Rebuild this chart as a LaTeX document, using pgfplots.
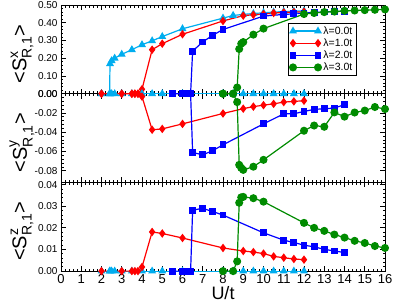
\documentclass[border=0pt]{standalone}
\usepackage{fontspec}
\setmainfont{Liberation Sans}
\usepackage{amsmath}
\usepackage{pgfplots}
\usepackage{pgfplotstable}
\pgfplotsset{compat=1.18}
\definecolor{gg}{rgb}{0,0.545,0}

\pgfplotstableread{
U sx sy sz
2.0 0 0 0
2.4 0 0 0
2.42 0.169 0 0
2.5 0.186 0 0
2.65 0.200 0 0
3.0 0.222 0 0
3.5 0.248 0 0
4.0 0.276 0 0
4.5 0.298 0 0
5.0 0.322 0 0
6.0 0.366 0 0
8.0 0.426 0 0
8.5 0.441 0 0
9.0 0.447 0 0
9.5 0.452 0 0
10.0 0.456 0 0
10.5 0.460 0 0
11.0 0.463 0 0
11.5 0.465 0 0
12.0 0.467 0 0
}\tabA

\pgfplotstableread{
U sx sy sz
2.0 0 0 0
3.0 0 0 0
3.5 0 0 0
3.65 0 0 0
3.8 0 0 0
4.0 0.025 -0.003 0.0019
4.5 0.248 -0.0374 0.0181
5.0 0.282 -0.0365 0.0174
6.0 0.335 -0.0313 0.0153
8.0 0.410 -0.0205 0.0107
9.0 0.440 -0.0155 0.0093
9.5 0.445 -0.0134 0.0088
10.0 0.449 -0.0119 0.0081
10.5 0.455 -0.0105 0.0068
11.0 0.458 -0.0087 0.0062
11.5 0.460 -0.0080 0.0056
12.0 0.462 -0.0073 0.0053
}\tabB

\pgfplotstableread{
U sx sy sz
5.5 0 0 0
6.0 0 0 0
6.2 0 0 0
6.4 0 0 0
6.5 0.240 -0.0610 0.0282
7.0 0.292 -0.0634 0.0290
7.5 0.330 -0.0590 0.0275
8.0 0.362 -0.0530 0.0259
10.0 0.4375 -0.0313 0.0177
11.0 0.447 -0.0209 0.0143
11.5 0.450 -0.0208 0.0132
12.0 0.455 -0.0184 0.0120
12.5 0.458 -0.0163 0.0112
13.0 0.461 -0.0156 0.0101
13.5 0.463 -0.0149 0.0093
14.0 0.465 -0.0114 0.0086
}\tabC

\pgfplotstableread{
U sx sy sz
8.0 0 0 0
8.5 0 0 0
8.7 0.035 -0.0087 0.0045
8.8 0.252 -0.0738 0.0316
8.9 0.282 -0.0770 0.0341
9.0 0.291 -0.0790 0.0343
9.5 0.333 -0.0757 0.0337
10.0 0.367 -0.0686 0.0321
12.0 0.449 -0.0384 0.0223
12.5 0.455 -0.0330 0.0200
13.0 0.460 -0.0343 0.0186
13.5 0.463 -0.0194 0.0169
14.0 0.467 -0.0238 0.0155
14.5 0.469 -0.0195 0.0140
15.0 0.471 -0.0175 0.0130
15.5 0.473 -0.0138 0.0116
16.0 0.475 -0.0159 0.0107
}\tabD

\pgfplotsset{
  panel/.style={
    scale only axis, width=324pt, height=88.7pt,
    xmin=0, xmax=16, xtick={0,1,...,16},
    minor x tick num=4, minor y tick num=4,
    tick align=inside, major tick length=5pt, minor tick length=2.5pt,
    axis line style={line width=0.9pt},
    every tick/.style={black, line width=0.7pt},
    scaled y ticks=false,
    yticklabel style={font=\fontsize{10}{12}\selectfont},
    xticklabel style={font=\fontsize{13}{15}\selectfont},
    /pgf/number format/assume math mode=true,
    every axis y label/.style={at={([xshift=-39pt,yshift=-4.5pt]axis description cs:0,0.5)},
      rotate=90, anchor=center, font=\fontsize{20}{24}\selectfont},
    legend image code/.code={
      \draw[mark repeat=2,mark phase=1] plot coordinates {(0pt,0pt) (12.5pt,0pt) (25pt,0pt)};},
  },
  yfmt/.style={yticklabel={\pgfmathprintnumber[fixed,fixed zerofill,precision=2,assume math mode=true]{\tick}}},
  cA/.style={color=cyan, line width=1.2pt, mark=triangle*, mark size=3.4pt, mark options={solid}},
  cB/.style={color=red, line width=1.2pt, mark=diamond*, mark size=3.3pt, mark options={solid}},
  cC/.style={color=blue, line width=1.2pt, mark=square*, mark size=2.8pt, mark options={solid}},
  cD/.style={color=gg, line width=1.2pt, mark=*, mark size=3.4pt, mark options={solid}},
}

\begin{document}
\begin{tikzpicture}
\begin{axis}[panel, yfmt, name=top, ymin=0, ymax=0.5, ytick={0,0.1,0.2,0.3,0.4,0.5},
  xticklabels=\empty,
  ylabel={$\text{<S}^{\text{x}}_{\text{R,1}}\text{>}$},
  legend style={at={(0.70,0.80)}, anchor=north west, draw=black, line width=0.6pt,
    font=\fontsize{10.5}{11}\selectfont, inner sep=1.5pt, row sep=-1pt, cells={anchor=west}}]
\addplot[cA] table[x=U, y=sx] {\tabA};
\addlegendentry{λ=0.0t}
\addplot[cB] table[x=U, y=sx] {\tabB};
\addlegendentry{λ=1.0t}
\addplot[cC] table[x=U, y=sx] {\tabC};
\addlegendentry{λ=2.0t}
\addplot[cD] table[x=U, y=sx] {\tabD};
\addlegendentry{λ=3.0t}
\end{axis}

\begin{axis}[panel, yfmt, name=mid, at={(top.south west)}, anchor=north west,
  ymin=-0.092, ymax=0, ytick={-0.08,-0.06,-0.04,-0.02,0},
  xticklabels=\empty,
  ylabel={$\text{<S}^{\text{y}}_{\text{R,1}}\text{>}$}]
\addplot[cA] table[x=U, y=sy] {\tabA};
\addplot[cB] table[x=U, y=sy] {\tabB};
\addplot[cC] table[x=U, y=sy] {\tabC};
\addplot[cD] table[x=U, y=sy] {\tabD};
\end{axis}

\begin{axis}[panel, yfmt, name=bot, at={(mid.south west)}, anchor=north west,
  ymin=0, ymax=0.041, ytick={0,0.01,0.02,0.03,0.04},
  xlabel={U/t},
  every axis x label/.style={at={([yshift=-22pt]axis description cs:0.5,0)}, anchor=center,
    font=\fontsize{18}{20}\selectfont},
  ylabel={$\text{<S}^{\text{z}}_{\text{R,1}}\text{>}$}]
\addplot[cA] table[x=U, y=sz] {\tabA};
\addplot[cB] table[x=U, y=sz] {\tabB};
\addplot[cC] table[x=U, y=sz] {\tabC};
\addplot[cD] table[x=U, y=sz] {\tabD};
\end{axis}

\pgfresetboundingbox
\path[use as bounding box] ([shift={(-61pt,5pt)}]top.north west) rectangle ++(395pt,-303pt);
\end{tikzpicture}
\end{document}
